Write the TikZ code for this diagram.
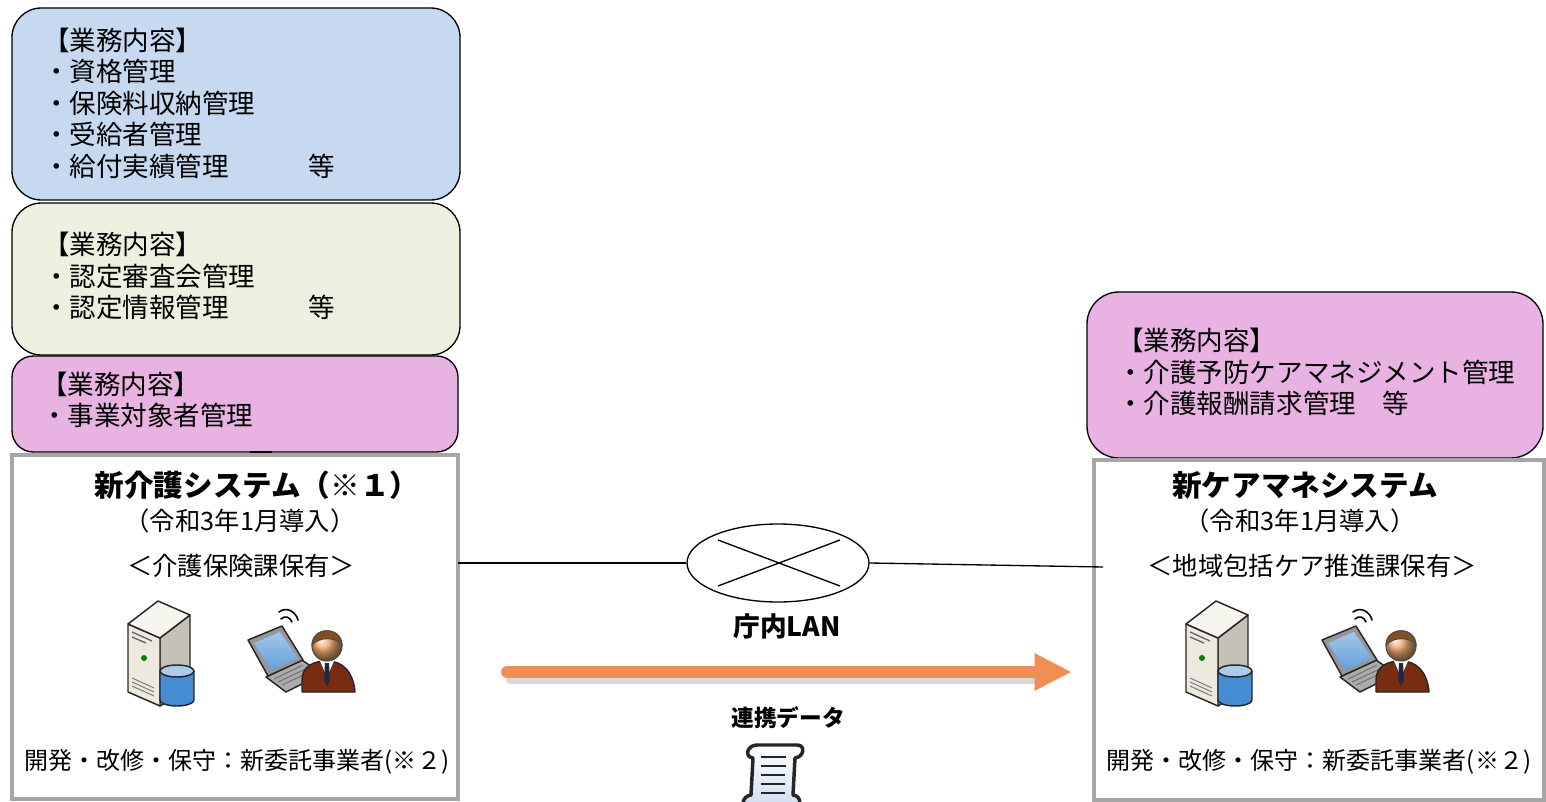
\documentclass[tikz,border=0pt]{standalone}
\usepackage{fontspec}
\setmainfont{Noto Sans CJK JP}
\usetikzlibrary{arrows.meta,shapes.geometric}
\definecolor{bxblue}{RGB}{198,217,241}
\definecolor{bxgreen}{RGB}{235,241,222}
\definecolor{bxpink}{RGB}{232,178,226}
\definecolor{sysgrey}{RGB}{166,166,166}
\definecolor{arrorange}{RGB}{240,142,86}
\definecolor{srvfront}{RGB}{236,234,222}
\definecolor{srvside}{RGB}{196,194,184}
\definecolor{srvtop}{RGB}{246,245,238}
\definecolor{cylblue}{RGB}{70,140,210}
\definecolor{lapgrey}{RGB}{150,150,150}
\definecolor{scrblue}{RGB}{100,160,220}
\definecolor{suit}{RGB}{120,45,18}
\definecolor{hair}{RGB}{130,80,30}
\definecolor{skin}{RGB}{240,170,110}
\definecolor{tiecol}{RGB}{30,40,70}
\definecolor{scrollfill}{RGB}{205,222,240}
\tikzset{
  infobox/.style={draw=black, line width=1pt, inner sep=0pt, outer sep=0pt},
  sysbox/.style={draw=sysgrey, line width=3pt, fill=white, inner sep=0pt, outer sep=0pt},
  boxtext/.style={font=\fontsize{19.9pt}{23.6pt}\selectfont, align=left, anchor=west, inner sep=0pt},
  systitle/.style={font=\bfseries\fontsize{22.2pt}{26pt}\selectfont, inner sep=0pt},
  systext/.style={font=\fontsize{19pt}{23pt}\selectfont, inner sep=0pt},
  devtext/.style={font=\fontsize{18pt}{22pt}\selectfont, inner sep=0pt},
  lanline/.style={line width=1pt, black},
  icline/.style={draw=black!85, line width=1.1pt, line join=round},
  server/.pic={
    \filldraw[icline, fill=srvside] (0,-12) -- (30,-35) -- (30,38) -- (0,56) -- cycle;
    \filldraw[icline, fill=srvfront] (-32,-26) -- (0,-12) -- (0,56) -- (-32,42) -- cycle;
    \filldraw[icline, fill=srvtop] (-32,-26) -- (-2,-49) -- (30,-35) -- (0,-12) -- cycle;
    \draw[black!60, line width=1pt] (-28,-18) -- (-8,-9) (-28,-13) -- (-14,-7);
    \fill[green!50!black] (-16,8) circle[radius=3];
    \draw[black!50, line width=0.8pt] (-28,28) -- (-6,38) (-28,32) -- (-6,42) (-28,36) -- (-6,46);
    \shade[left color=cylblue, middle color=white!80!cylblue, right color=cylblue]
      (0,21) -- (0,50) arc[start angle=180, end angle=0, x radius=17, y radius=6] -- (34,21) -- cycle;
    \draw[icline] (0,21) -- (0,50) arc[start angle=180, end angle=0, x radius=17, y radius=6] -- (34,21);
    \filldraw[icline, fill=white!55!cylblue] (17,21) ellipse[x radius=17, y radius=6];
  },
  user/.pic={
    \filldraw[icline, fill=lapgrey!80] (-34,27) -- (2,10) -- (22,24) -- (-14,42) -- cycle;
    \draw[black!55, line width=0.8pt] (-26,29) -- (3,15) (-22,32) -- (8,18) (-18,35) -- (12,21);
    \filldraw[icline, fill=lapgrey] (-52,-10) -- (-18,-24) -- (3,10) -- (-32,26) -- cycle;
    \shade[top color=scrblue!60!white, bottom color=scrblue] (-46,-7) -- (-20,-18) -- (-2,8) -- (-29,20) -- cycle;
    \draw[black, line width=1.2pt, line cap=round] (-19,-31) .. controls (-15,-35) and (-10,-33) .. (-8,-28);
    \draw[black, line width=1.2pt, line cap=round] (-21,-38) .. controls (-13,-44) and (-4,-38) .. (-2,-30);
    \filldraw[icline, fill=suit] (2,42) -- (2,30) .. controls (2,16) and (14,11) .. (27,11) .. controls (41,11) and (53,20) .. (55,42) -- cycle;
    \fill[white] (20,11) -- (27,27) -- (34,11) -- cycle;
    \fill[tiecol] (25,13) -- (29,13) -- (30,30) -- (27,36) -- (24,30) -- cycle;
    \shade[ball color=skin] (27,-4) circle[radius=15];
    \draw[black!70, line width=0.8pt] (27,-4) circle[radius=15];
    \filldraw[draw=black!70, line width=0.8pt, fill=hair] (12,-5) .. controls (12,-24) and (42,-24) .. (42,-5) .. controls (37,-13) and (20,-14) .. (12,-5) -- cycle;
  },
  scroll/.pic={
    \filldraw[draw=black!85, line width=2.6pt, line join=round, top color=white, bottom color=scrollfill]
      (-16,-30) -- (24,-30) .. controls (33,-30) and (31,-18) .. (22,-17) -- (20,20)
      .. controls (29,21) and (29,33) .. (20,33) -- (-24,33) .. controls (-33,33) and (-31,21) .. (-22,20)
      -- (-20,-17) .. controls (-29,-18) and (-26,-30) .. (-16,-30) -- cycle;
    \draw[black!85, line width=2pt] (-12,-18) -- (13,-18) (-12,-9) -- (13,-9) (-12,0) -- (12,0) (-12,9) -- (12,9) (-12,18) -- (12,18);
  }
}
\begin{document}
\begin{tikzpicture}[x=0.75pt,y=-0.75pt]
\useasboundingbox (0,0) rectangle (1546,802);
\fill[white] (0,0) rectangle (1546,802);

% left info boxes
\node[infobox, fill=bxblue, rounded corners=22pt, minimum width=336pt, minimum height=144pt] (b1) at (236,104) {};
\node[boxtext] (b1t) at (43,103) {【業務内容】\\・資格管理\\・保険料収納管理\\・受給者管理\\・給付実績管理　　　等};
\node[infobox, fill=bxgreen, rounded corners=22pt, minimum width=336pt, minimum height=114pt] (b2) at (236,279) {};
\node[boxtext] (b2t) at (43,276) {【業務内容】\\・認定審査会管理\\・認定情報管理　　　等};
\node[infobox, fill=bxpink, rounded corners=16pt, minimum width=334.5pt, minimum height=72pt] (b3) at (235,404) {};
\node[boxtext] (b3t) at (41,400) {【業務内容】\\・事業対象者管理};
\coordinate (tk1) at (250,452);
\coordinate (tk2) at (272,452);
\draw[black, line width=1.6pt] (tk1) -- (tk2);

% left system box
\node[sysbox, minimum width=334.5pt, minimum height=258pt] (lsys) at (235,627) {};
\node[systitle] (lt1) at (257,485) {新介護システム（※１）};
\node[systext] (lt2) at (240,521) {（令和3年1月導入）};
\node[systext] (lt3) at (241,566) {＜介護保険課保有＞};
\pic at (160,650) {server};
\pic at (300,650) {user};
\node[devtext] (lt4) at (237,762) {開発・改修・保守：新委託事業者(※２)};

% right boxes
\node[infobox, fill=bxpink, rounded corners=24pt, minimum width=342pt, minimum height=124.5pt] (rb) at (1315,375) {};
\node[boxtext] (rbt) at (1117,372) {【業務内容】\\・介護予防ケアマネジメント管理\\・介護報酬請求管理　等};
\node[sysbox, minimum width=337.5pt, minimum height=255pt] (rsys) at (1319,630) {};
\node[systitle] (rt1) at (1305,485) {新ケアマネシステム};
\node[systext] (rt2) at (1300,521) {（令和3年1月導入）};
\node[systext] (rt3) at (1312,566) {＜地域包括ケア推進課保有＞};
\pic at (1218,650) {server};
\pic at (1374,650) {user};
\node[devtext] (rt4) at (1319,762) {開発・改修・保守：新委託事業者(※２)};

% LAN
\node[draw, ellipse, line width=1pt, fill=white, minimum width=136.5pt, minimum height=58.5pt, inner sep=0pt] (lan) at (778,563) {};
\draw[lanline] ([shift={(-60,-23)}]lan.center) -- ([shift={(62,23)}]lan.center);
\draw[lanline] ([shift={(-60,23)}]lan.center) -- ([shift={(62,-23)}]lan.center);
\coordinate (rlan) at (1103,567);
\draw[lanline] (lan.west -| lsys.east) -- (lan.west);
\draw[lanline] (lan.east) -- (rlan);
\node[font=\bfseries\fontsize{20pt}{24pt}\selectfont, inner sep=0pt] (lanlbl) at (787,626) {庁内LAN};

% data arrow
\coordinate (as1) at (507,672);
\coordinate (as2) at (1072,672);
\coordinate (sh1) at (510,680);
\coordinate (sh2) at (1040,680);
\draw[black!25, line width=6pt, line cap=round, opacity=0.6] (sh1) -- (sh2);
\draw[arrorange, line width=9pt, line cap=round, -{Triangle[length=28pt,width=26pt]}] (as1) -- (as2);
\node[font=\bfseries\fontsize{17pt}{20pt}\selectfont, inner sep=0pt] (datalbl) at (788,718) {連携データ};
\pic at (773,775) {scroll};
\end{tikzpicture}
\end{document}
